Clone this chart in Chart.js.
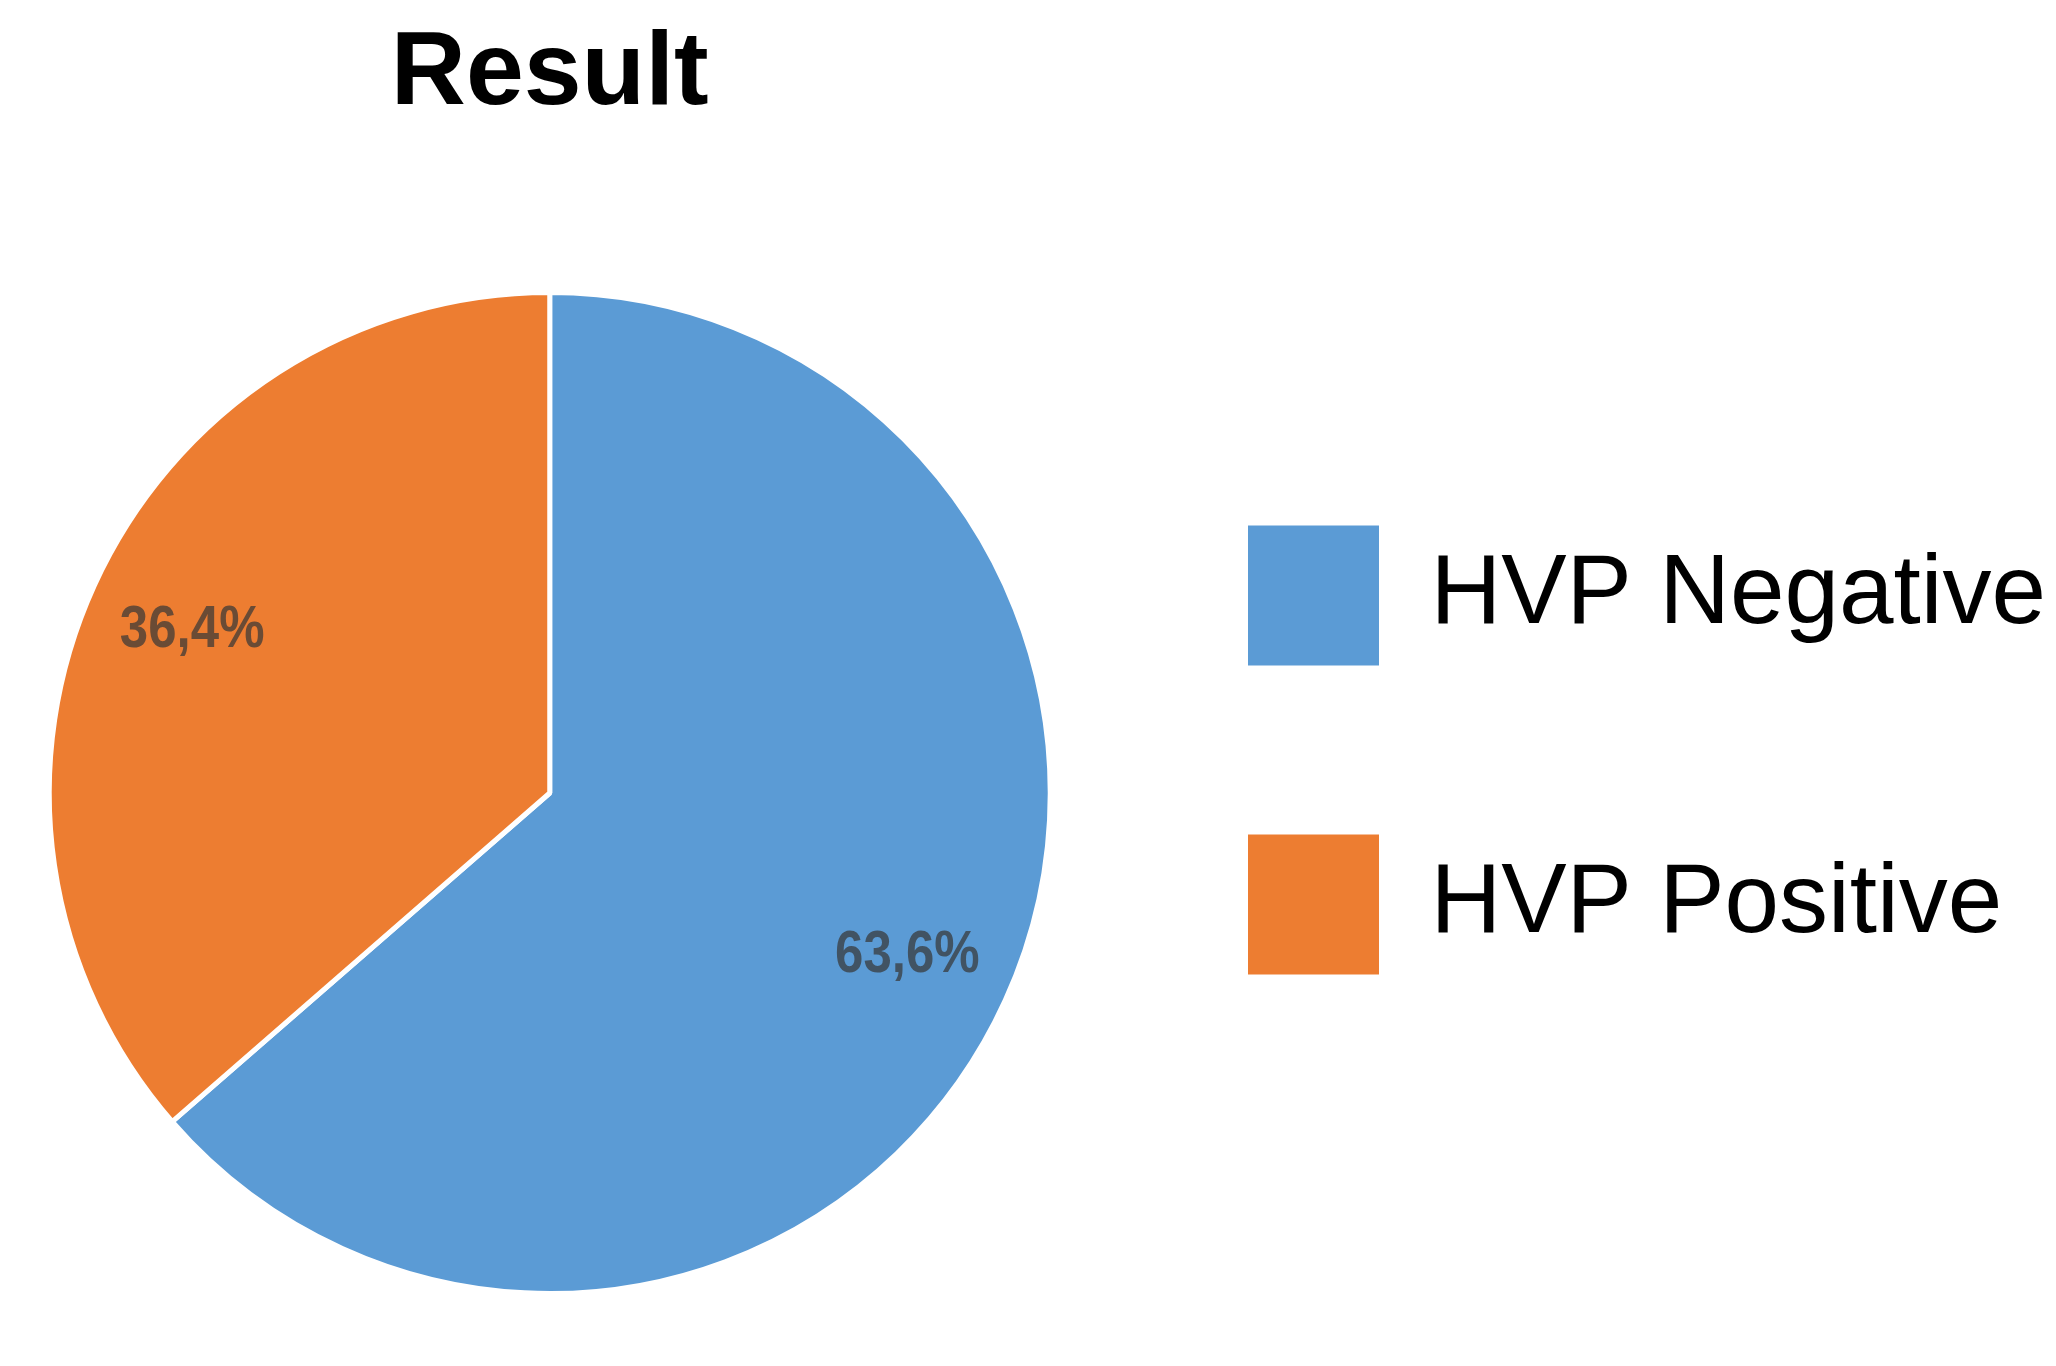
<!DOCTYPE html>
<html>
<head>
<meta charset="utf-8">
<title>Result</title>
<script src="https://cdn.jsdelivr.net/npm/chart.js@4.4.1/dist/chart.umd.min.js"></script>
<style>
    html, body { margin: 0; padding: 0; background: #ffffff; }
    #wrap { width: 2056px; height: 1366px; position: relative; }
</style>
</head>
<body>
<div id="wrap"><canvas id="resultChart"></canvas></div>
<script>
// data
const categories = ['HVP Negative', 'HVP Positive'];
const shares = [63.6, 36.4];
const sliceColors = ['#5B9BD5', '#ED7D31'];

// percentage labels inside the slices, placed from each arc's own geometry
const sliceLabels = {
    id: 'sliceLabels',
    afterDatasetsDraw(chart) {
        const ctx = chart.ctx;
        const meta = chart.getDatasetMeta(0);
        meta.data.forEach((arc, i) => {
            const p = arc.getProps(['x', 'y', 'startAngle', 'endAngle', 'outerRadius'], true);
            const mid = (p.startAngle + p.endAngle) / 2;
            const r = p.outerRadius * 0.785;
            const tx = p.x + Math.cos(mid) * r;
            const ty = p.y + Math.sin(mid) * r;
            const text = shares[i].toFixed(1).replace('.', ',') + '%';
            ctx.save();
            ctx.translate(tx, ty);
            ctx.scale(0.85, 1);
            ctx.font = 'bold 60px "Liberation Sans", Arial, sans-serif';
            ctx.fillStyle = 'rgba(55, 55, 55, 0.72)';
            ctx.textAlign = 'center';
            ctx.textBaseline = 'middle';
            ctx.fillText(text, 0, 0);
            ctx.restore();
        });
    }
};

document.addEventListener('DOMContentLoaded', () => {
    const canvas = document.getElementById('resultChart');
    new Chart(canvas.getContext('2d'), {
        type: 'pie',
        data: {
            labels: categories,
            datasets: [{
                data: shares,
                backgroundColor: sliceColors,
                borderColor: '#ffffff',
                borderWidth: 5,
                hoverOffset: 0
            }]
        },
        options: {
            responsive: true,
            maintainAspectRatio: false,
            animation: false,
            events: [],
            layout: {
                padding: { top: 8, bottom: 70, left: 18, right: 0 }
            },
            plugins: {
                title: {
                    display: true,
                    text: 'Result',
                    fullSize: false,
                    color: '#000000',
                    font: { family: '"Liberation Sans", Arial, sans-serif', size: 104, weight: 'bold', lineHeight: 1.2 },
                    padding: { top: 5, bottom: 152.2 }
                },
                legend: {
                    position: 'right',
                    align: 'center',
                    title: {
                        display: true,
                        text: '',
                        font: { size: 12, lineHeight: 1.2 },
                        padding: { top: 181.6, bottom: 0 }
                    },
                    labels: {
                        boxWidth: 136,
                        boxHeight: 145,
                        padding: 164,
                        color: '#000000',
                        font: { family: '"Liberation Sans", Arial, sans-serif', size: 98 }
                    }
                },
                tooltip: { enabled: false }
            }
        },
        plugins: [sliceLabels]
    });
});
</script>
</body>
</html>
